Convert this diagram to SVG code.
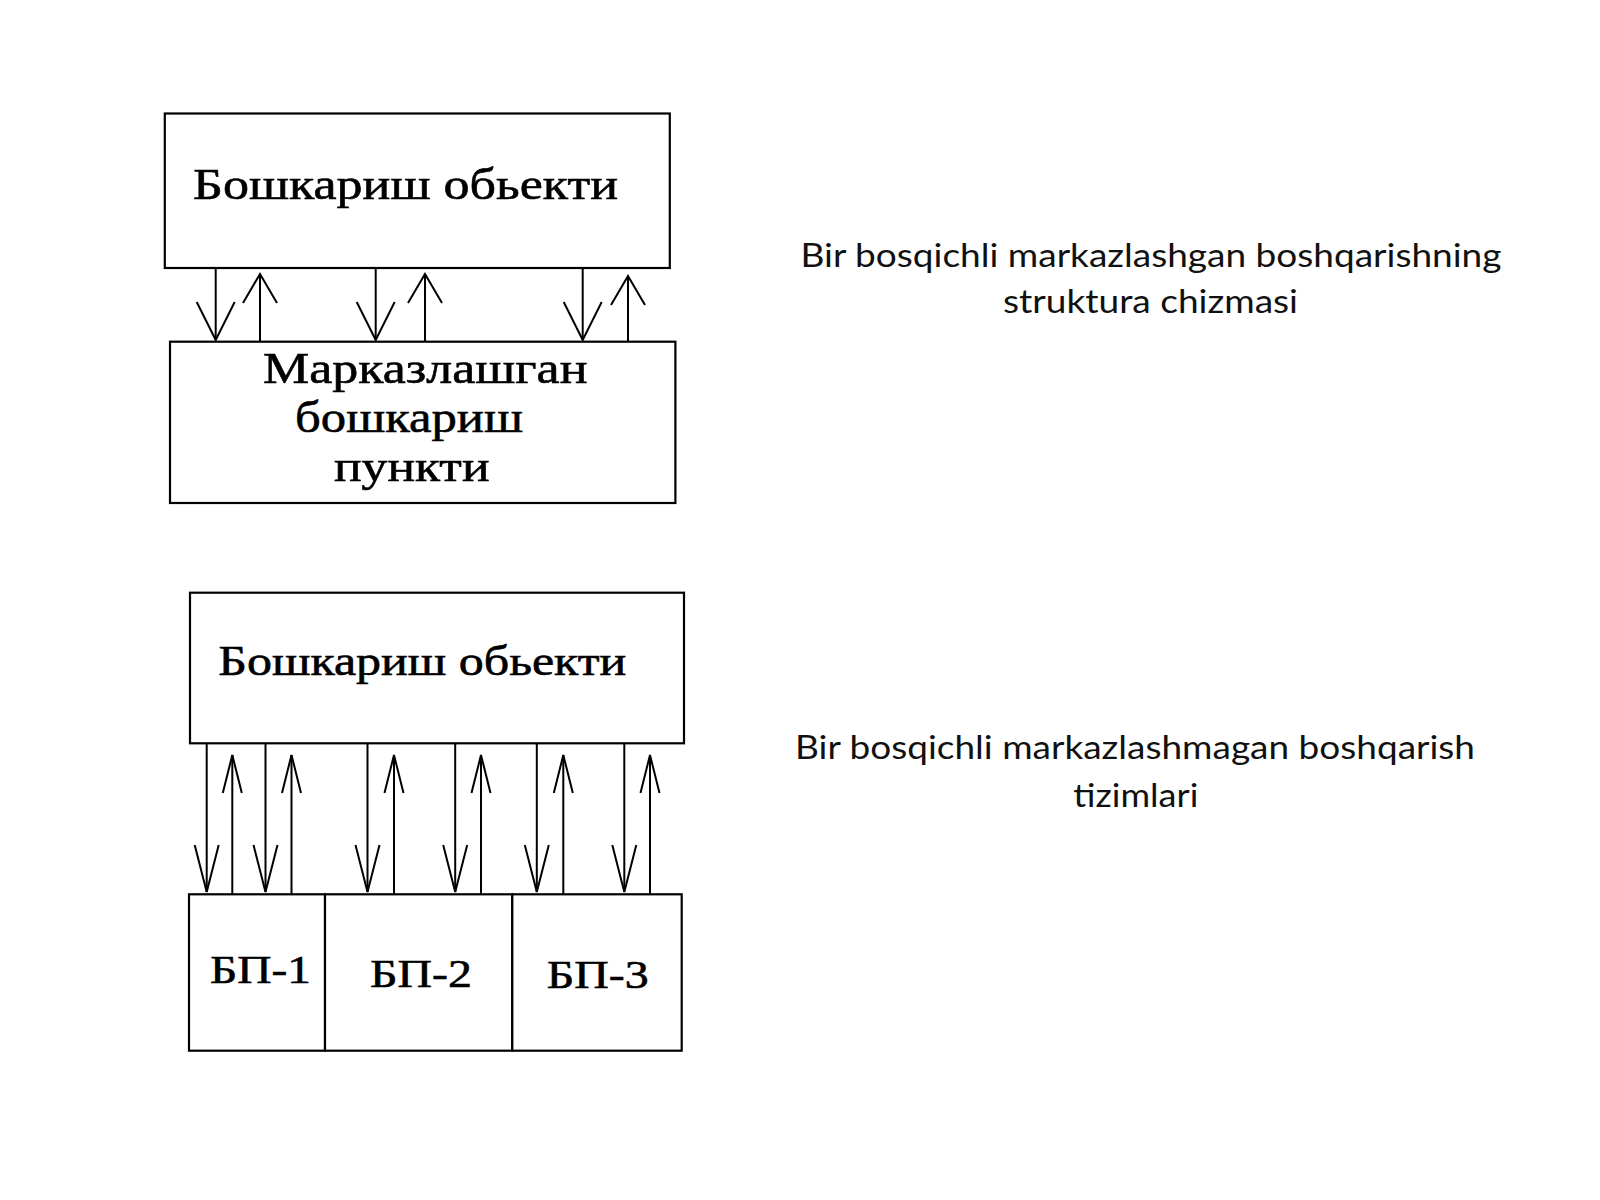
<svg xmlns="http://www.w3.org/2000/svg" width="1600" height="1200" viewBox="0 0 1600 1200">
<style>
.box{fill:#fff;stroke:#000;stroke-width:2.2}
.ru{font-family:"Liberation Serif","Times New Roman",serif;fill:#000;stroke:#000;stroke-width:0.6}
.cap{font-family:Lato,"Open Sans","Liberation Sans",sans-serif;font-size:32px;fill:#111;text-anchor:middle}
.ln{stroke:#000;stroke-width:2;fill:none}
</style>
<defs>
<marker id="hd1" markerUnits="userSpaceOnUse" orient="auto" refX="0" refY="0" markerWidth="40" markerHeight="40" overflow="visible"><path d="M-38,-19 L0,0 L-38,19" fill="none" stroke="#000" stroke-width="2"/></marker>
<marker id="hu1" markerUnits="userSpaceOnUse" orient="auto" refX="0" refY="0" markerWidth="40" markerHeight="40" overflow="visible"><path d="M-29,-17 L0,0 L-29,17" fill="none" stroke="#000" stroke-width="2"/></marker>
<marker id="hd2" markerUnits="userSpaceOnUse" orient="auto" refX="0" refY="0" markerWidth="40" markerHeight="40" overflow="visible"><path d="M-47,-12 L0,0 L-47,12" fill="none" stroke="#000" stroke-width="2"/></marker>
<marker id="hu2" markerUnits="userSpaceOnUse" orient="auto" refX="0" refY="0" markerWidth="40" markerHeight="40" overflow="visible"><path d="M-38,-9.5 L0,0 L-38,9.5" fill="none" stroke="#000" stroke-width="2"/></marker>
</defs>
<rect width="1600" height="1200" fill="#fff"/>

<g id="connectors">
<path class="ln" d="M215.7,268 V340" marker-end="url(#hd1)"/>
<path class="ln" d="M260,341 V274" marker-end="url(#hu1)"/>
<path class="ln" d="M375.7,268 V340" marker-end="url(#hd1)"/>
<path class="ln" d="M425,341 V274" marker-end="url(#hu1)"/>
<path class="ln" d="M582.7,268 V340" marker-end="url(#hd1)"/>
<path class="ln" d="M628,341 V276" marker-end="url(#hu1)"/>

<path class="ln" d="M206.7,743 V892" marker-end="url(#hd2)"/>
<path class="ln" d="M232.3,894 V755" marker-end="url(#hu2)"/>
<path class="ln" d="M265.5,743 V892" marker-end="url(#hd2)"/>
<path class="ln" d="M291.5,894 V755" marker-end="url(#hu2)"/>
<path class="ln" d="M367.5,743 V892" marker-end="url(#hd2)"/>
<path class="ln" d="M394,894 V755" marker-end="url(#hu2)"/>
<path class="ln" d="M455.2,743 V892" marker-end="url(#hd2)"/>
<path class="ln" d="M481,894 V755" marker-end="url(#hu2)"/>
<path class="ln" d="M536.8,743 V892" marker-end="url(#hd2)"/>
<path class="ln" d="M563.3,894 V755" marker-end="url(#hu2)"/>
<path class="ln" d="M624.3,743 V892" marker-end="url(#hd2)"/>
<path class="ln" d="M650,894 V755" marker-end="url(#hu2)"/>
</g>

<g id="object1">
<rect class="box" x="164.8" y="113.5" width="505" height="154.5"/>
<text class="ru" x="193" y="199" font-size="45" textLength="425" lengthAdjust="spacingAndGlyphs">Бошкариш обьекти</text>
</g>

<g id="center">
<rect class="box" x="170" y="341.7" width="505.4" height="161.3"/>
<text class="ru" x="263" y="383" font-size="45" textLength="324.5" lengthAdjust="spacingAndGlyphs">Марказлашган</text>
<text class="ru" x="295" y="432" font-size="45" textLength="228" lengthAdjust="spacingAndGlyphs">бошкариш</text>
<text class="ru" x="334" y="481" font-size="45" textLength="155.5" lengthAdjust="spacingAndGlyphs">пункти</text>
</g>

<g id="object2">
<rect class="box" x="190" y="592.7" width="494" height="150.6"/>
<text class="ru" x="218.3" y="675" font-size="43" textLength="408" lengthAdjust="spacingAndGlyphs">Бошкариш обьекти</text>
</g>

<g id="bp1">
<rect class="box" x="189" y="894.3" width="136" height="156.4"/>
<text class="ru" x="210" y="983.3" font-size="40" textLength="101" lengthAdjust="spacingAndGlyphs">БП-1</text>
</g>
<g id="bp2">
<rect class="box" x="325" y="894.3" width="187.3" height="156.4"/>
<text class="ru" x="370" y="986.7" font-size="40" textLength="102" lengthAdjust="spacingAndGlyphs">БП-2</text>
</g>
<g id="bp3">
<rect class="box" x="512.3" y="894.3" width="169.4" height="156.4"/>
<text class="ru" x="546.7" y="988.3" font-size="40" textLength="102" lengthAdjust="spacingAndGlyphs">БП-3</text>
</g>

<g id="caption1">
<text class="cap" x="1151" y="266.7" textLength="701" lengthAdjust="spacingAndGlyphs">Bir bosqichli markazlashgan boshqarishning</text>
<text class="cap" x="1150.5" y="313.3" textLength="295" lengthAdjust="spacingAndGlyphs">struktura chizmasi</text>
</g>
<g id="caption2">
<text class="cap" x="1135" y="759.3" textLength="680" lengthAdjust="spacingAndGlyphs">Bir bosqichli markazlashmagan boshqarish</text>
<text class="cap" x="1135.8" y="807.3" textLength="125" lengthAdjust="spacingAndGlyphs">tizimlari</text>
</g>
</svg>
